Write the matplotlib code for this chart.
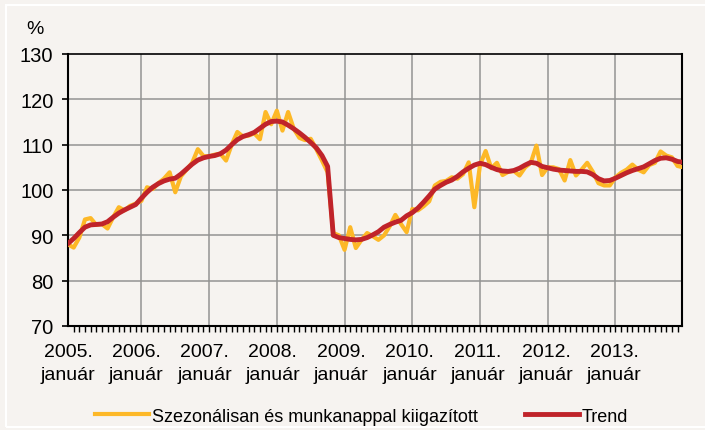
import matplotlib.pyplot as plt
import matplotlib.patches as patches
import numpy as np

# monthly index, 0 = 2005 január
trend = [88.2, 89.3, 90.6, 91.8, 92.3, 92.4, 92.5, 93.0, 94.0, 94.9, 95.6, 96.2,
         96.8, 98.2, 99.5, 100.6, 101.4, 102.0, 102.4, 102.6, 103.5, 104.6, 105.7, 106.6,
         107.1, 107.4, 107.6, 108.0, 108.8, 110.0, 111.1, 111.8, 112.2, 112.7, 113.6, 114.5,
         115.1, 115.2, 115.0, 114.3, 113.5, 112.6, 111.6, 110.5, 109.3, 107.6, 105.2, 90.0,
         89.5, 89.3, 89.1, 89.0, 89.1, 89.5, 90.1, 90.8, 91.8, 92.4, 92.9, 93.3,
         94.3, 95.0, 96.0, 97.3, 98.7, 100.2, 101.0, 101.7, 102.2, 103.0, 104.0, 104.8,
         105.5, 105.9, 105.6, 105.0, 104.5, 104.2, 104.1, 104.3, 104.8, 105.5, 106.1, 105.9,
         105.2, 104.9, 104.6, 104.4, 104.3, 104.2, 104.1, 104.1, 104.0, 103.4, 102.5, 102.0,
         102.1, 102.6, 103.2, 103.8, 104.3, 104.7, 105.1, 105.8, 106.5, 107.0, 107.1, 106.8,
         106.3, 106.1]

seasonal = [88.0, 87.3, 89.5, 93.5, 93.8, 92.3, 92.5, 91.5, 94.0, 96.2, 95.5, 96.5,
            97.0, 97.6, 100.6, 100.2, 101.5, 102.5, 103.9, 99.5, 103.0, 104.5, 106.0, 109.0,
            107.5, 107.4, 107.8, 108.0, 106.5, 110.0, 112.8, 111.8, 112.0, 112.5, 111.2, 117.2,
            114.5, 117.5, 113.1, 117.2, 113.5, 111.5, 111.0, 111.3, 109.0, 106.5, 103.9, 90.5,
            90.0, 86.8, 91.8, 87.2, 89.0, 90.5, 89.8, 89.0, 90.0, 92.0, 94.5, 92.5,
            90.7, 95.8, 95.5, 96.4, 97.5, 101.0, 101.8, 102.0, 102.8, 102.5, 103.5, 106.1,
            96.2, 105.5, 108.6, 104.8, 106.0, 103.3, 104.0, 104.2, 103.2, 105.0, 106.0, 109.8,
            103.3, 105.0, 105.0, 104.6, 102.1, 106.6, 103.2, 104.5, 106.0, 104.0, 101.5, 101.0,
            101.0, 102.8, 103.8, 104.5, 105.6, 104.5, 103.9, 105.5, 106.0, 108.5, 107.6, 107.2,
            105.3, 105.0]

years = ["2005.", "2006.", "2007.", "2008.", "2009.", "2010.", "2011.", "2012.", "2013."]
year_labels = [y + "\njanuár" for y in years]

bg = "#f6f3f0"
plt.rcParams["font.family"] = ["Liberation Sans", "DejaVu Sans"]

fig = plt.figure(figsize=(7.05, 4.31), dpi=100, facecolor=bg)
ax = fig.add_axes([0.0965, 0.2413, 0.8709, 0.6311], facecolor=bg)

months = np.arange(len(trend))
ax.plot(months, seasonal, color="#fdb827", lw=3.0, solid_joinstyle="round",
        label="Szezonálisan és munkanappal kiigazított", zorder=3)
ax.plot(months, trend, color="#c0232a", lw=3.5, solid_joinstyle="round",
        label="Trend", zorder=4)

ax.set_xlim(0, 108.8)
ax.set_ylim(70, 130)
ax.set_yticks(np.arange(70, 131, 10))

# gridlines
for v in range(80, 130, 10):
    ax.axhline(v, color="#939393", lw=1.1, zorder=1)
for k in range(8):
    ax.axvline(13 + 12 * k, color="#939393", lw=1.1, zorder=1)

ax.set_xticks(np.arange(9) * 12.1)
ax.set_xticklabels(year_labels, linespacing=1.5)
ax.set_xticks(np.arange(0, 109), minor=True)
ax.tick_params(axis="x", which="major", length=0, pad=12, labelsize=14)
ax.tick_params(axis="x", which="minor", length=4.5, width=1.0, direction="out")
ax.tick_params(axis="y", length=4.5, width=1.2, pad=6, labelsize=14.5)

for s in ax.spines.values():
    s.set_color("black")
    s.set_linewidth(1.5)
ax.spines["top"].set_linewidth(1.2)

fig.text(35 / 705, 1 - 30 / 431, "%", fontsize=14, ha="center", va="center")

fig.legend(loc="center", bbox_to_anchor=(0.513, 0.032), ncol=2, frameon=False,
           fontsize=13, handlelength=3.0, handletextpad=0.15, columnspacing=2.6)

fig.patches.append(patches.Rectangle((6 / 705, 3 / 431), 1.0, 1 - 9 / 431,
                                     transform=fig.transFigure, fill=False,
                                     edgecolor="white", lw=1.5))

plt.savefig("out.png", dpi=100, facecolor=bg)
plt.close()
